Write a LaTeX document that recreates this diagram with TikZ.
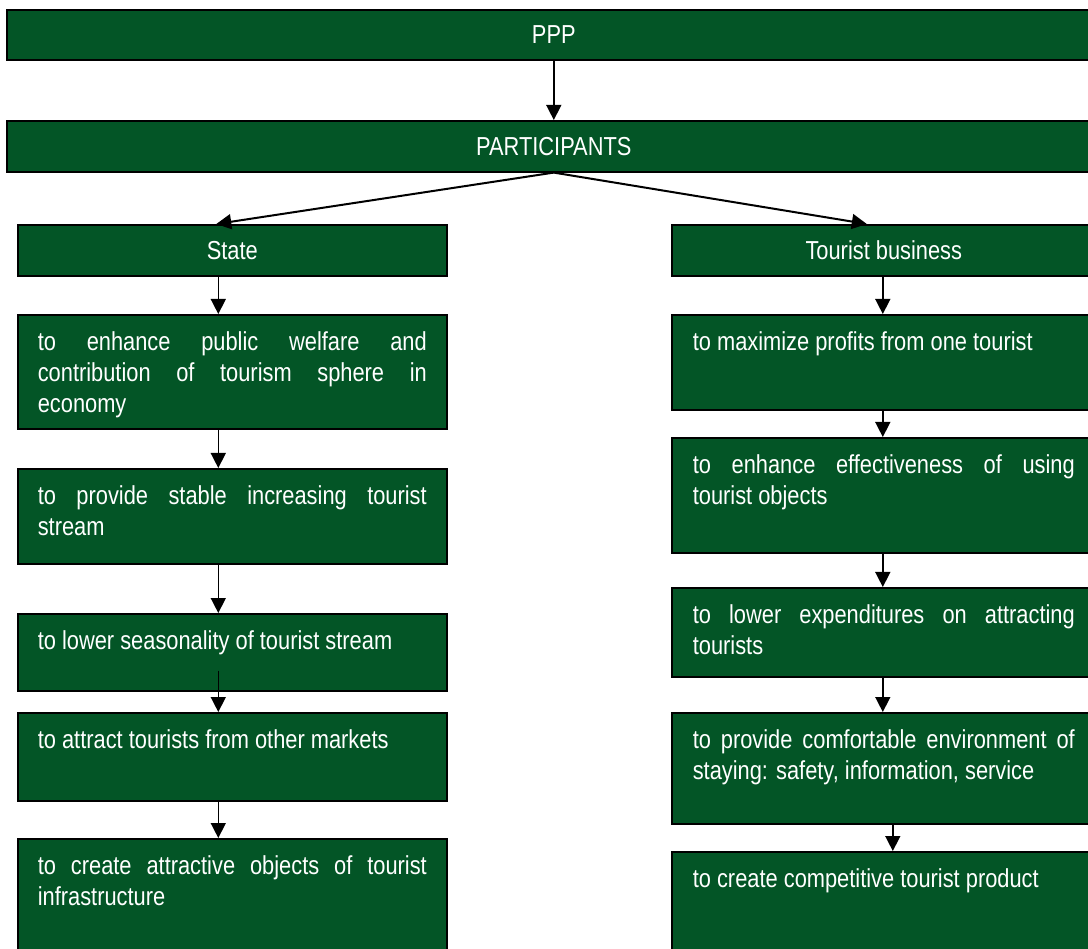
\documentclass[tikz,border=0pt]{standalone}
\usepackage{fontspec}
\setmainfont{Liberation Sans}[FakeStretch=0.84]
\usepackage{xcolor}
\usetikzlibrary{arrows.meta, positioning, calc}
\definecolor{pppgreen}{RGB}{3,85,38}

\begin{document}
\begin{tikzpicture}[x=1pt, y=-1pt,
	every node/.style={font=\fontsize{26}{31}\selectfont},
	bar/.style={rectangle, draw=black, line width=1.6pt, fill=pppgreen, text=white, anchor=north west, inner sep=0pt},
	goal/.style={bar, align=justify, inner xsep=20pt, inner ysep=14pt, text height=22pt},
	link/.style={-{Triangle[length=15pt, width=15pt]}, line width=1.5pt}]
	\useasboundingbox (0,0) rectangle (1088,949);
	\fill[white] (0,0) rectangle (1088,949);

	% PPP and its participants
	\node[bar, minimum width=1094pt, minimum height=50pt] (ppp) at (6,9) {PPP};
	\node[bar, minimum width=1094pt, minimum height=51pt] (part) at (6,120) {PARTICIPANTS};
	\draw[link] (ppp) -- (part);

	% State
	\node[bar, minimum width=429pt, minimum height=51pt] (state) at (17,224) {State};
	\node[goal, text width=389pt, text depth=64pt] (s1) at (17,314) {to enhance public welfare and\linebreak contribution of tourism sphere in\linebreak economy};
	\node[goal, text width=389pt, text depth=45pt] (s2) at (17,468) {to provide stable increasing tourist\linebreak stream};
	\node[goal, text width=389pt, text depth=27pt] (s3) at (17,613) {to lower seasonality of tourist stream};
	\node[goal, text width=389pt, text depth=38pt] (s4) at (17,712) {to attract tourists from other markets};
	\node[goal, text width=389pt, text depth=67pt] (s5) at (17,838) {to create attractive objects of tourist\linebreak infrastructure};

	% Tourist business
	\node[bar, minimum width=424pt, minimum height=51pt] (biz) at (671,224) {Tourist business};
	\node[goal, inner xsep=21pt, text width=382pt, text depth=45pt] (b1) at (671,314) {to maximize profits from one tourist};
	\node[goal, inner xsep=21pt, text width=382pt, text depth=65pt] (b2) at (671,437) {to enhance effectiveness of using\linebreak tourist objects};
	\node[goal, inner xsep=21pt, text width=382pt, text depth=39pt] (b3) at (671,587) {to lower expenditures on attracting\linebreak tourists};
	\node[goal, inner xsep=21pt, text width=382pt, text depth=61pt] (b4) at (671,712) {to provide comfortable environment of\linebreak staying: safety, information, service};
	\node[goal, inner xsep=21pt, text width=382pt, text depth=60pt] (b5) at (671,851) {to create competitive tourist product};

	\draw[link, line width=2pt] (part.south) -- ([xshift=-16pt]state.north);
	\draw[link, line width=2pt] (part.south) -- ([xshift=-17pt]biz.north);

	% left column
	\draw[link] ([xshift=-14pt]state.south) -- ([xshift=-14pt]s1.north);
	\draw[link] ([xshift=-14pt]s1.south) -- ([xshift=-14pt]s2.north);
	\draw[link] ([xshift=-14pt]s2.south) -- ([xshift=-14pt]s3.north);
	\draw[link] ([xshift=-14pt, yshift=21pt]s3.south) -- ([xshift=-14pt]s4.north);
	\draw[link] ([xshift=-14pt]s4.south) -- ([xshift=-14pt]s5.north);

	% right column
	\draw[link] ([xshift=-1pt]biz.south) -- ([xshift=-1pt]b1.north);
	\draw[link] ([xshift=-1pt]b1.south) -- ([xshift=-1pt]b2.north);
	\draw[link] ([xshift=-1pt]b2.south) -- ([xshift=-1pt]b3.north);
	\draw[link] ([xshift=-1pt]b3.south) -- ([xshift=-1pt]b4.north);
	\draw[link] ([xshift=9pt]b4.south) -- ([xshift=9pt]b5.north);
\end{tikzpicture}
\end{document}
